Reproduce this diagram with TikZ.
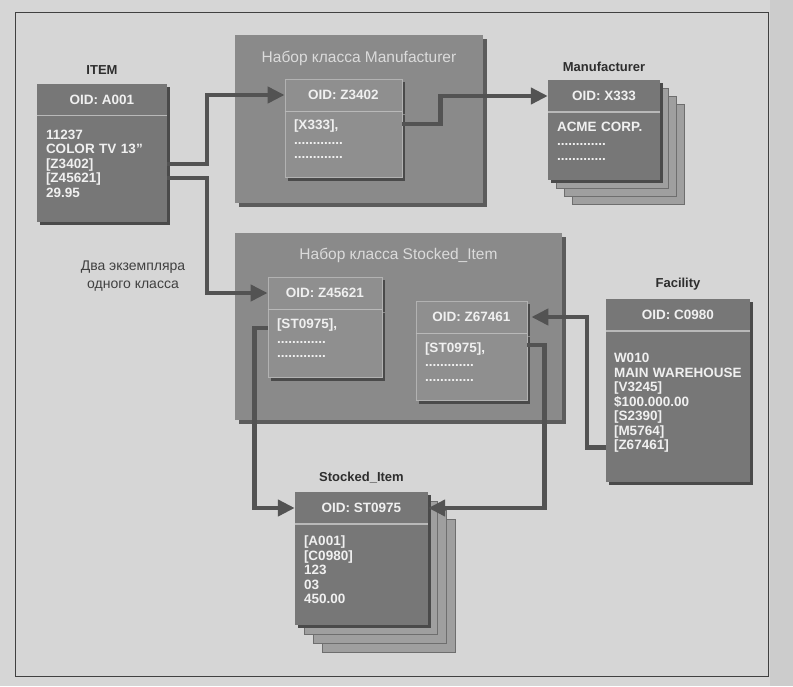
\documentclass[tikz,border=0pt]{standalone}
\usepackage{fontspec}
\setmainfont{Liberation Sans}
\usetikzlibrary{positioning, arrows.meta, shadows}
\definecolor{pagegray}{HTML}{D6D6D6}
\definecolor{setgray}{HTML}{8A8A8A}
\definecolor{recgray}{HTML}{777777}
\definecolor{ingray}{HTML}{8F8F8F}
\definecolor{edgegray}{HTML}{4A4A4A}
\definecolor{linkgray}{HTML}{535353}

\begin{document}
\begin{tikzpicture}[x=1pt, y=-1pt,
		oid/.style={fill=recgray, text=white!94!black, font=\fontsize{13.5}{14.5}\selectfont\bfseries, minimum height=32pt, inner sep=0pt,
			drop shadow={shadow xshift=3pt, shadow yshift=-3pt, fill=edgegray, opacity=1}},
		recbody/.style={oid, align=left, inner xsep=9pt, inner ysep=4pt, execute at end node={\\[-4pt]\mbox{}}},
		insetrec/.style={fill=ingray, draw=gray!60, line width=0.8pt},
		setbox/.style={fill=setgray, inner sep=0pt, drop shadow={shadow xshift=4pt, shadow yshift=-4pt, fill=edgegray!90, opacity=1}},
		setname/.style={text=white!86!black, font=\fontsize{15.5}{18}\selectfont},
		classname/.style={text=black!82, font=\fontsize{13}{15}\selectfont\bfseries},
		note/.style={text=black!75, font=\fontsize{14}{18}\selectfont, align=center},
		layer/.style={fill=gray!75, draw=edgegray!80, line width=0.8pt},
		sepline/.style={draw=gray!55, line width=1.5pt},
		link/.style={draw=linkgray, line width=4.5pt, -{Triangle[length=17pt, width=16pt]}},
	]
		\useasboundingbox (0,0) rectangle (793,686);
		\fill[pagegray] (0,0) rectangle (793,686);
		\fill[gray!40] (770,0) rectangle (793,686);
		\draw[black!75, line width=0.9pt] (15,12) rectangle (768,676);

		\node[setbox, minimum width=248pt, minimum height=168pt] (mset) at (359,119) {};
		\node[setname, below=13pt of mset.north] (msetname) {Набор класса Manufacturer};
		\node[setbox, minimum width=327pt, minimum height=187pt] (sset) at (398.5,326.5) {};
		\node[setname, below=12pt of sset.north] (ssetname) {Набор класса Stocked\_Item};

		\foreach \d/\e in {24/27, 16/18, 8/9}{
			\filldraw[layer] (548+\d,80+\d) rectangle (660+\d,180+\d);
			\filldraw[layer] (295+\e,492+\e) rectangle (428+\e,625+\e);
		}

		\node[oid, minimum width=130pt] (item) at (102,99.5) {OID: A001};
		\node[recbody, text width=112pt, minimum height=106pt, below=0pt of item] (itemb) {11237\\COLOR TV 13"\\{[Z3402]}\\{[Z45621]}\\29.95};

		\node[oid, insetrec, minimum width=117pt] (z3402) at (343.5,95) {OID: Z3402};
		\node[recbody, insetrec, text width=99pt, minimum height=66pt, below=0pt of z3402] (z3402b) {{[X333]},\\.............\\.............};

		\node[oid, minimum width=112pt] (mfr) at (604,96) {OID: X333};
		\node[recbody, text width=94pt, minimum height=68pt, below=0pt of mfr] (mfrb) {ACME CORP.\\.............\\.............};

		\node[oid, insetrec, minimum width=114pt] (z45621) at (325,293) {OID: Z45621};
		\node[recbody, insetrec, text width=96pt, minimum height=68pt, below=0pt of z45621] (z45621b) {{[ST0975]},\\.............\\.............};

		\node[oid, insetrec, minimum width=111pt] (z67461) at (471.5,317) {OID: Z67461};
		\node[recbody, insetrec, text width=93pt, minimum height=67pt, below=0pt of z67461] (z67461b) {{[ST0975]},\\.............\\.............};

		\node[oid, minimum width=144pt] (fac) at (678,315) {OID: C0980};
		\node[recbody, inner xsep=8pt, text width=128pt, minimum height=151pt, below=0pt of fac] (facb) {W010\\\mbox{MAIN WAREHOUSE}\\{[V3245]}\\\$100.000.00\\{[S2390]}\\{[M5764]}\\{[Z67461]}};

		\node[oid, minimum width=133pt] (stk) at (361.5,508) {OID: ST0975};
		\node[recbody, text width=115pt, minimum height=101pt, below=0pt of stk] (stkb) {{[A001]}\\{[C0980]}\\123\\03\\450.00};

		\foreach \n in {item, z3402, mfr, z45621, z67461, fac, stk}{
			\draw[sepline] (\n.south west) -- (\n.south east);
		}

		\node[classname, above=5pt of item] (itemname) {ITEM};
		\node[classname, above=5pt of mfr] (mfrname) {Manufacturer};
		\node[classname, above=5pt of fac] (facname) {Facility};
		\node[classname, above=5pt of stk] (stkname) {Stocked\_Item};
		\node[note] (twonote) at (133,276) {Два экземпляра\\одного класса};

		\draw[link] ([yshift=5pt]itemb.east) -- ++(40,0) |- (z3402.west);
		\draw[link] ([yshift=-9pt]itemb.east) -- ++(40,0) |- (z45621.west);
		\draw[link] ([yshift=21pt]z3402b.east) -- ++(38,0) |- (mfr.west);
		\draw[link] ([yshift=16pt]z45621b.west) -- ++(-13,0) |- (stk.west);
		\draw[link] ([yshift=22.5pt]z67461b.east) -- ++(17,0) |- (stk.east);
		\draw[link, shorten >=4pt] ([yshift=-40.5pt]facb.west) -- ++(-19,0) |- (z67461.east);
	\end{tikzpicture}
\end{document}
